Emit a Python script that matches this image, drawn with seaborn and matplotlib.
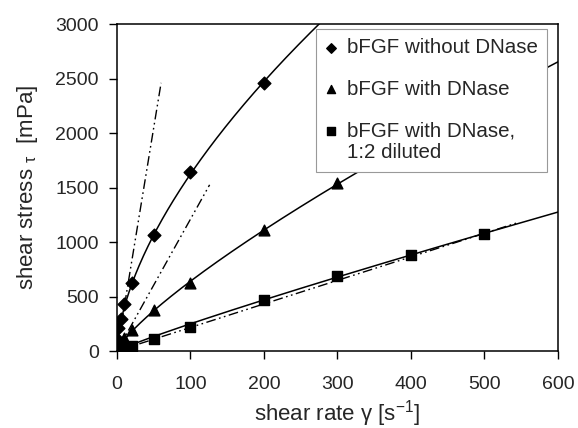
import seaborn as sns
import matplotlib.pyplot as plt
import numpy as np
import pandas as pd

# shear rate / shear stress readings
rate_wo = [1, 2, 5, 10, 20, 50, 100, 200]
stress_wo = [100, 210, 290, 428, 625, 1060, 1640, 2460]

rate_w = [1, 2, 5, 10, 20, 50, 100, 200, 300]
stress_w = [15, 35, 70, 120, 195, 375, 625, 1110, 1545]

rate_dil = [1, 2, 5, 10, 20, 50, 100, 200, 300, 400, 500]
stress_dil = [5, 8, 15, 25, 45, 107, 222, 465, 688, 885, 1070]

labels = ['bFGF without DNase', 'bFGF with DNase', 'bFGF with DNase,\n1:2 diluted']
markers = ['D', '^', 's']
marker_sizes = [42, 60, 52]
fit_from = [50, 50, 200]

# newtonian (dash-dot) lines: slope and end rate
newt_slope = [41.0, 12.1, 2.16]
newt_end = [60, 126, 545]

df = pd.concat([
    pd.DataFrame({'rate': rate_wo, 'stress': stress_wo, 'sample': labels[0]}),
    pd.DataFrame({'rate': rate_w, 'stress': stress_w, 'sample': labels[1]}),
    pd.DataFrame({'rate': rate_dil, 'stress': stress_dil, 'sample': labels[2]}),
])

sns.set_style('ticks')
plt.rcParams['font.family'] = ['Liberation Sans', 'DejaVu Sans']
plt.rcParams['mathtext.fontset'] = 'custom'
plt.rcParams['mathtext.rm'] = 'Liberation Sans'
plt.rcParams['mathtext.it'] = 'Liberation Sans'

fig = plt.figure(figsize=(5.78, 4.28), dpi=100)
ax = fig.add_axes([0.2024, 0.1799, 0.763, 0.764])

# power law fits
for lab, f0 in zip(labels, fit_from):
    sub = df[df['sample'] == lab]
    r = sub['rate'].to_numpy(float)
    s = sub['stress'].to_numpy(float)
    keep = r >= f0
    n, lnk = np.polyfit(np.log(r[keep]), np.log(s[keep]), 1)
    xx = np.linspace(0, 600, 400)
    yy = np.exp(lnk) * xx ** n
    sns.lineplot(x=xx, y=yy, ax=ax, color='black', lw=1.1, zorder=2)

for k, e in zip(newt_slope, newt_end):
    xx = np.array([0, e])
    ln = ax.plot(xx, k * xx, color='black', lw=1.0, zorder=1)[0]
    ln.set_dashes([7, 2.5, 1.2, 2.5, 1.2, 2.5])

for lab, m, ms in zip(labels, markers, marker_sizes):
    sub = df[df['sample'] == lab]
    ax.scatter(sub['rate'], sub['stress'], marker=m, s=ms, color='black',
               edgecolor='black', zorder=3, label=lab)

ax.set_xlim(0, 600)
ax.set_ylim(0, 3000)
ax.set_xticks(range(0, 601, 100))
ax.set_yticks(range(0, 3001, 500))
ax.tick_params(labelsize=14, direction='out', length=6, width=1, color='black')
ax.tick_params(axis='x', pad=12)
ax.tick_params(axis='y', pad=7)
for sp in ax.spines.values():
    sp.set_visible(True)
    sp.set_color('black')
    sp.set_linewidth(1.1)
ax.set_xlabel('shear rate γ [s$^{-1}$]', fontsize=16, labelpad=4)
ax.set_ylabel('shear stress $_{τ}$  [mPa]', fontsize=16, labelpad=11)

leg = ax.legend(loc='upper left', bbox_to_anchor=(0.451, 0.985), fontsize=14.8,
                frameon=True, fancybox=False, framealpha=1, edgecolor='#999999',
                handlelength=0.6, handletextpad=0.45, labelspacing=1.1,
                borderpad=0.45, markerscale=0.75, borderaxespad=0)
leg.get_frame().set_linewidth(0.8)
# put the square marker on the first line of its two-line label
h = leg.legend_handles[2]
off = h.get_offsets()
off[:, 1] += 9
h.set_offsets(off)

fig.savefig('out.png', dpi=100)
